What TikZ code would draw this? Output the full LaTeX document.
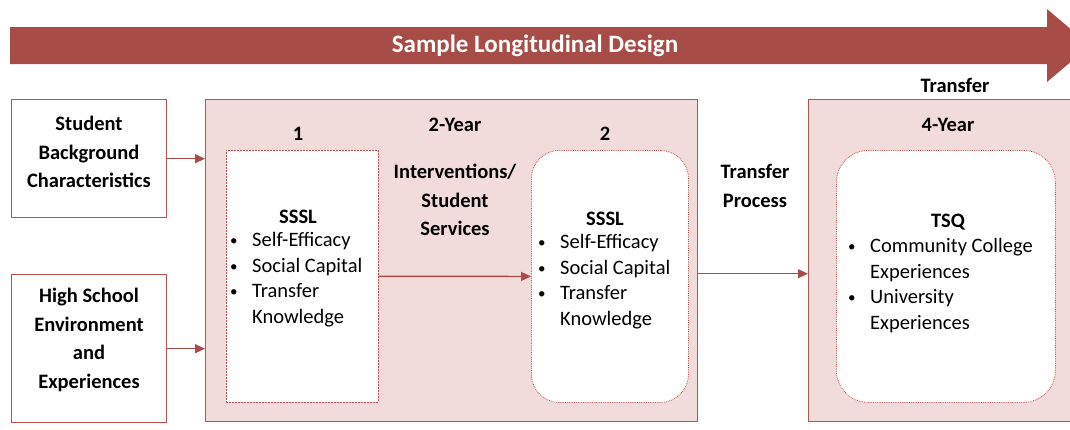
\documentclass[tikz,border=0pt]{standalone}
\usepackage{fontspec}
\setmainfont{Carlito}
\usetikzlibrary{arrows.meta}
\definecolor{arrowred}{HTML}{A84C47}
\definecolor{boxred}{HTML}{C0504D}
\definecolor{pinkfill}{HTML}{F2DCDB}
\newcommand{\bul}{\makebox[22pt][l]{\raisebox{1pt}{\fontsize{15}{15}\selectfont\textbullet}}}
\newcommand{\nob}{\makebox[22pt][l]{}}
\tikzset{
  outerbox/.style={draw=boxred, line width=1.4pt, fill=pinkfill},
  plainbox/.style={draw=boxred, line width=1.4pt, fill=white},
  dashbox/.style={draw=boxred, line width=0.7pt, dash pattern=on 2pt off 1pt, fill=white},
  dotbox/.style={draw=boxred, line width=0.8pt, densely dotted, fill=white, rounded corners=28pt},
  lbl/.style={font=\fontsize{20.5}{28.5}\selectfont\bfseries, align=center},
  body/.style={font=\fontsize{20.5}{25.7}\selectfont, align=left, anchor=north west, inner sep=0pt},
  conn/.style={draw=arrowred, line width=1.3pt, -{Triangle[length=10pt,width=9pt]}}
}
\begin{document}
\begin{tikzpicture}[x=1pt,y=-1pt]
\useasboundingbox (0,0) rectangle (1070,429);
% big arrow
\fill[arrowred] (10,27) -- (1047,27) -- (1047,9) -- (1090,45.5) -- (1047,82) -- (1047,64) -- (10,64) -- cycle;
\node[font=\fontsize{25}{30}\selectfont\bfseries, text=white] (title) at (535,46) {Sample Longitudinal Design};
% left boxes
\node[plainbox, minimum width=155pt, minimum height=118pt, anchor=north west] (sb) at (11,99) {};
\node[lbl] (sbt) at (89,152) {Student\\Background\\Characteristics};
\node[plainbox, minimum width=155pt, minimum height=148pt, anchor=north west] (hs) at (11,274) {};
\node[lbl] (hst) at (89,340) {High School\\Environment\\and\\Experiences};
% 2-year box
\node[outerbox, minimum width=492pt, minimum height=322pt, anchor=north west] (two) at (205,99) {};
\node[lbl] (twot) at (455,125) {2-Year};
\node[lbl] (one) at (298,134) {1};
\node[lbl] (twon) at (605,134) {2};
\node[lbl] (interv) at (455,200) {Interventions/\\Student\\Services};
% box 1
\node[dashbox, minimum width=152pt, minimum height=252pt, anchor=north west] (b1) at (226,150) {};
\node[lbl] (s1) at (298,217) {SSSL};
\node[body] (l1) at (230,232) {\bul Self-Efficacy\\\bul Social Capital\\\bul Transfer\\\nob Knowledge};
% box 2
\node[dotbox, minimum width=157pt, minimum height=252pt, anchor=north west] (b2) at (531,150) {};
\node[lbl] (s2) at (605,219) {SSSL};
\node[body] (l2) at (538,234) {\bul Self-Efficacy\\\bul Social Capital\\\bul Transfer\\\nob Knowledge};
% transfer process
\node[lbl] (tp) at (755,186) {Transfer\\Process};
% 4-year box
\node[outerbox, minimum width=267pt, minimum height=322pt, anchor=north west] (four) at (808,99) {};
\node[lbl] (tr) at (955,85) {Transfer};
\node[lbl] (fourt) at (948,125) {4-Year};
\node[dotbox, rounded corners=32pt, minimum width=219pt, minimum height=252pt, anchor=north west] (tsq) at (836,150) {};
\node[lbl] (tsqt) at (948,222) {TSQ};
\node[body] (l3) at (848,238) {\bul Community College\\\nob Experiences\\\bul University\\\nob Experiences};
% connectors
\draw[conn] (sb.east) -- (sb.east -| two.west);
\draw[conn] (hs.east) -- (hs.east -| two.west);
\draw[conn] (b1.east) -- (b2.west);
\draw[conn] ([yshift=-13pt]two.east) -- ([yshift=-13pt]four.west);
\end{tikzpicture}
\end{document}
